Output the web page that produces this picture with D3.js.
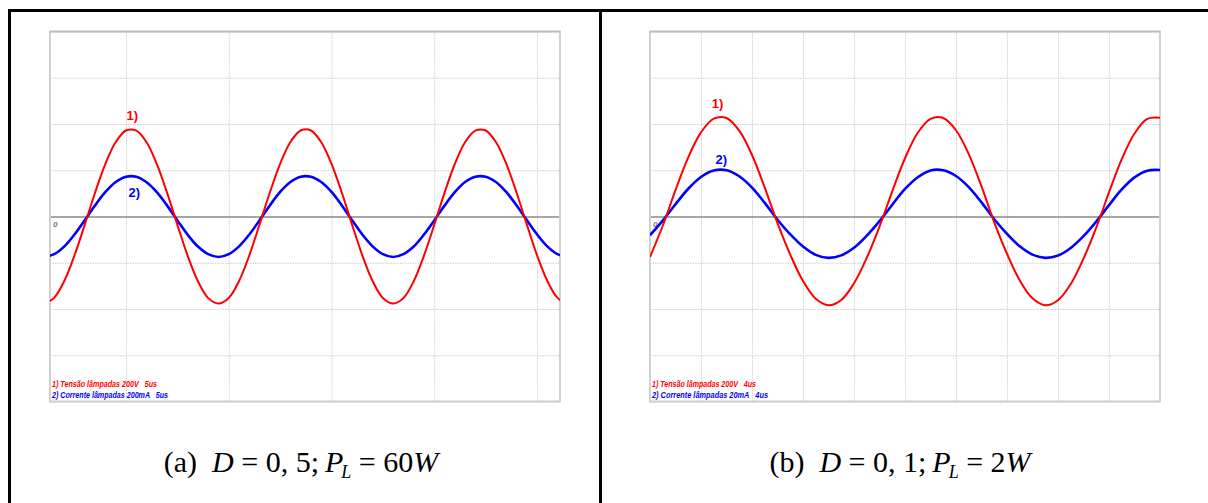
<!DOCTYPE html>
<html><head><meta charset="utf-8">
<script src="https://cdn.jsdelivr.net/npm/d3@7"></script>
<style>
html,body{margin:0;padding:0;background:#fff;}
svg{display:block;}
</style></head>
<body>
<svg id="chart" width="1208" height="503"></svg>
<script>
// ---------- DATA ----------
// Panel (a): D = 0,5 ; P_L = 60 W  — 5 us/div
const timeA = [-4.0,-3.5,-3.0,-2.5,-2.0,-1.5,-1.0,-0.5,0.0,0.5,1.0,1.5,2.0,2.5,3.0,3.5,4.0,4.5,5.0,5.5,6.0,6.5,7.0,7.5,8.0,8.5,9.0,9.5,10.0,10.5,11.0,11.5,12.0,12.5,13.0,13.5,14.0,14.5,15.0,15.5,16.0,16.5,17.0,17.5,18.0,18.5,19.0,19.5,20.0,20.5,21.0,21.5];
const voltageA = [-378,-352,-278,-166,-33,105,229,322,372,371,321,226,102,-36,-170,-280,-353,-376,-352,-279,-168,-34,104,228,322,372,372,321,228,104,-35,-168,-279,-352,-376,-353,-280,-169,-36,102,227,321,371,372,322,229,105,-33,-167,-278,-352,-378];
const currentA = [-175,-163,-129,-77,-15,49,106,149,172,172,148,105,47,-17,-79,-130,-163,-175,-163,-129,-78,-16,48,106,149,172,172,149,106,48,-16,-78,-129,-163,-175,-163,-130,-78,-17,47,105,149,172,172,149,106,49,-15,-77,-129,-163,-175];

// Panel (b): D = 0,1 ; P_L = 2 W  — 4 us/div
const timeB = [0,1,2,3,4,5,6,7,8,9,10,11,12,13,14,15,16,17,18,19,20,21,22,23,24,25,26,27,28,29,30,31,32,33,34,35,36,37,38,39,40];
const voltageB = [-175,-40,114,256,364,423,426,371,266,125,-29,-165,-279,-356,-384,-361,-289,-179,-44,109,252,362,422,426,373,270,130,-25,-161,-276,-354,-384,-362,-292,-182,-48,104,248,359,422,427];
const currentB = [-8.1,-1.8,5.3,12.0,17.1,19.9,20.0,17.4,12.5,5.9,-1.4,-7.7,-13.0,-16.6,-17.9,-16.8,-13.5,-8.3,-2.0,5.1,11.9,17.0,19.9,20.0,17.5,12.7,6.1,-1.2,-7.5,-12.9,-16.5,-17.9,-16.9,-13.6,-8.5,-2.2,4.9,11.7,16.9,19.8,20.1];

// Tick labels / grid
const timeTicksA = [0,5,10,15,20];
const timeTicksB = [0,4,8,12,16,20,24,28,32,36,40];
const voltageTicks = [-800,-600,-400,-200,0,200,400,600,800];
const legendA = ["1) Tensão lâmpadas 200V   5us", "2) Corrente lâmpadas 200mA   5us"];
const legendB = ["1) Tensão lâmpadas 200V   4us", "2) Corrente lâmpadas 20mA   4us"];
const traceLabels = ["1)", "2)"];
// annotation anchor points (time, value) for the "1)" / "2)" labels
const labelPosA = [[0.3, 378], [0.4, 175]];
const labelPosB = [[5.3, 432], [5.6, 20.3]];
const captionA = {tag:"(a)", D:"0, 5;\u2009", P:"60"};
const captionB = {tag:"(b)", D:"0, 1;\u2009", P:"2"};

// ---------- LAYOUT ----------
const svg = d3.select("#chart");
const RED = "#ff0000", BLUE = "#0000ff";
const plotTop = 31.5, plotBottom = 401.5;

const panels = [
  {x0:50, x1:560, tDomain:[-3.70, 21.12], tTicks:timeTicksA, time:timeA, v:voltageA, i:currentA,
   iDomain:[-800,800], legend:legendA, labels:labelPosA, caption:captionA, cx:301},
  {x0:650, x1:1160, tDomain:[0, 40], tTicks:timeTicksB, time:timeB, v:voltageB, i:currentB,
   iDomain:[-80,80], legend:legendB, labels:labelPosB, caption:captionB, cx:900}
];

panels.forEach((p, k) => {
  const x = d3.scaleLinear().domain(p.tDomain).range([p.x0, p.x1]);
  const yV = d3.scaleLinear().domain([-800, 800]).range([plotBottom, plotTop]);
  const yI = d3.scaleLinear().domain(p.iDomain).range([plotBottom, plotTop]);
  const g = svg.append("g");

  const clipId = "clip" + k;
  svg.append("defs").append("clipPath").attr("id", clipId)
    .append("rect").attr("x", p.x0).attr("y", plotTop).attr("width", p.x1 - p.x0).attr("height", plotBottom - plotTop);

  // grid: vertical
  const xAxis = d3.axisBottom(x).tickValues(p.tTicks).tickSize(-(plotBottom - plotTop)).tickFormat("");
  const gx = g.append("g").attr("transform", `translate(0,${plotBottom})`).call(xAxis);
  gx.select(".domain").remove();
  gx.selectAll(".tick line").attr("stroke", "#d2d2d2").attr("stroke-width", 1).attr("stroke-dasharray", "1.5,1");
  // grid: horizontal
  const yAxis = d3.axisLeft(yV).tickValues(voltageTicks).tickSize(-(p.x1 - p.x0)).tickFormat("");
  const ga = g.append("g").attr("transform", `translate(${p.x0},0)`).call(yAxis);
  ga.select(".domain").remove();
  ga.selectAll(".tick line").attr("stroke", d => d === 0 ? "#8a8a8a" : "#cfcfcf")
    .attr("stroke-width", d => d === 0 ? 1.6 : 1)
    .attr("stroke-dasharray", d => d === 0 ? null : "1.5,1");
  ga.selectAll(".tick").filter(d => d === 0).raise();

  // plot border
  g.append("rect").attr("x", p.x0).attr("y", plotTop).attr("width", p.x1 - p.x0).attr("height", plotBottom - plotTop)
    .attr("fill", "none").attr("stroke", "#d0d0d0").attr("stroke-width", 2);
  g.append("line").attr("x1", p.x0).attr("x2", p.x1).attr("y1", plotTop).attr("y2", plotTop)
    .attr("stroke", "#bdbdbd").attr("stroke-width", 1.5);

  // zero marker
  g.append("text").attr("x", p.x0 + 3).attr("y", yV(0) + 10).text("0")
    .attr("font-family", "Liberation Sans, Arial, sans-serif").attr("font-size", 8)
    .attr("font-weight", "bold").attr("font-style", "italic").attr("fill", "#777");

  // traces
  const lineV = d3.line().x((d, j) => x(p.time[j])).y(d => yV(d)).curve(d3.curveCatmullRom);
  const lineI = d3.line().x((d, j) => x(p.time[j])).y(d => yI(d)).curve(d3.curveCatmullRom);
  const traces = g.append("g").attr("clip-path", `url(#${clipId})`);
  traces.append("path").attr("d", lineI(p.i)).attr("fill", "none").attr("stroke", BLUE).attr("stroke-width", 2.6);
  traces.append("path").attr("d", lineV(p.v)).attr("fill", "none").attr("stroke", RED).attr("stroke-width", 2);

  // trace labels
  g.append("text").attr("x", x(p.labels[0][0])).attr("y", yV(p.labels[0][1]) - 9)
    .attr("text-anchor", "middle").text(traceLabels[0])
    .attr("font-family", "Liberation Sans, Arial, sans-serif").attr("font-size", 13).attr("font-weight", "bold").attr("fill", RED);
  g.append("text").attr("x", x(p.labels[1][0])).attr("y", yI(p.labels[1][1]) + (k === 0 ? 21 : -6))
    .attr("text-anchor", "middle").text(traceLabels[1])
    .attr("font-family", "Liberation Sans, Arial, sans-serif").attr("font-size", 13).attr("font-weight", "bold").attr("fill", BLUE);

  // legend
  const lw = k === 0 ? [105, 116] : [104, 116];
  p.legend.forEach((txt, j) => {
    g.append("text").attr("x", p.x0 + 2).attr("y", 387 + j * 11).text(txt)
      .attr("font-family", "Liberation Sans, Arial, sans-serif").attr("font-size", 8.5)
      .attr("font-weight", "bold").attr("font-style", "italic")
      .attr("textLength", lw[j]).attr("lengthAdjust", "spacingAndGlyphs")
      .attr("fill", j === 0 ? RED : BLUE).attr("xml:space", "preserve");
  });

  // caption
  const c = svg.append("text").attr("x", p.cx).attr("y", 472).attr("text-anchor", "middle")
    .attr("font-family", "Liberation Serif, 'Times New Roman', serif").attr("font-size", 30).attr("fill", "#000")
    .attr("xml:space", "preserve");
  c.append("tspan").text(p.caption.tag + "  ");
  c.append("tspan").attr("font-style", "italic").text("D");
  c.append("tspan").text(" = " + p.caption.D);
  c.append("tspan").attr("font-style", "italic").text("P");
  c.append("tspan").attr("font-style", "italic").attr("font-size", 18).attr("dy", 6).attr("dx", -2).text("L");
  c.append("tspan").attr("dy", -6).text(" = " + p.caption.P);
  c.append("tspan").attr("font-style", "italic").text("W");
});

// outer frame
svg.append("line").attr("x1", 8).attr("x2", 1208).attr("y1", 10.5).attr("y2", 10.5).attr("stroke", "#000").attr("stroke-width", 3);
svg.append("line").attr("x1", 9.5).attr("x2", 9.5).attr("y1", 9).attr("y2", 503).attr("stroke", "#000").attr("stroke-width", 3);
svg.append("line").attr("x1", 600.5).attr("x2", 600.5).attr("y1", 9).attr("y2", 503).attr("stroke", "#000").attr("stroke-width", 3);
</script>
</body></html>
